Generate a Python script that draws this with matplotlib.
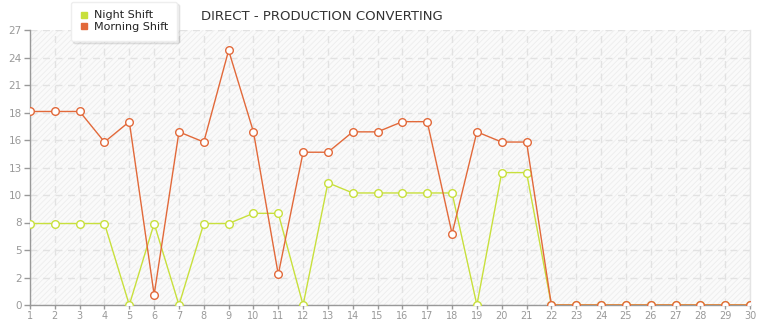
import numpy as np
import matplotlib; matplotlib.use("Agg")
import matplotlib.pyplot as plt
from matplotlib.lines import Line2D
from matplotlib.patches import Rectangle

days = list(range(1, 31))
night = [8, 8, 8, 8, 0, 8, 0, 8, 8, 9, 9, 0, 12, 11, 11, 11, 11, 11, 0, 13, 13,
         0, 0, 0, 0, 0, 0, 0, 0, 0]
morning = [19, 19, 19, 16, 18, 1, 17, 16, 25, 17, 3, 15, 15, 17, 17, 18, 18, 7, 17, 16, 16,
           0, 0, 0, 0, 0, 0, 0, 0, 0]
yticks = [0, 2.7, 5.4, 8.1, 10.8, 13.5, 16.2, 18.9, 21.6, 24.3, 27]
ylabels = ["0", "2", "5", "8", "10", "13", "16", "18", "21", "24", "27"]

c_night = "#c8e03c"
c_morn = "#e2693a"

plt.rcParams["hatch.color"] = "#ececec"
plt.rcParams["hatch.linewidth"] = 0.6
fig = plt.figure(figsize=(7.65, 3.2), dpi=100)
ax = fig.add_axes([30/765, 15/320, 720/765, 275/320])
ax.set_facecolor("#fafafa")
ax.add_patch(Rectangle((0, 0), 1, 1, transform=ax.transAxes, facecolor="none",
                       edgecolor="#ededed", hatch="//////", lw=0, zorder=0))

ax.plot(days, night, "-o", color=c_night, lw=1, ms=5.5, mfc="white", mec=c_night, mew=1, zorder=3)
ax.plot(days, morning, "-o", color=c_morn, lw=1, ms=5.5, mfc="white", mec=c_morn, mew=1, zorder=4)

ax.set_xlim(1, 30); ax.set_ylim(0, 27)
ax.set_xticks(days); ax.set_yticks(yticks); ax.set_yticklabels(ylabels)
ax.grid(True, color="#e2e2e2", ls=(0, (5, 4)), lw=1, zorder=1)
ax.tick_params(colors="#999999", labelsize=7.5, length=4, width=1, pad=2)
ax.tick_params(axis="x", length=3, pad=1, labelsize=7)
ax.spines["top"].set_visible(False)
ax.spines["right"].set_color("#e4e4e4")
ax.spines["left"].set_color("#999999"); ax.spines["bottom"].set_color("#999999")
for sp in ax.spines.values():
    sp.set_linewidth(1)

fig.text(322/765, 1 - 17/320, "DIRECT - PRODUCTION CONVERTING", ha="center", va="center",
         fontsize=9.5, color="#333333")

handles = [Line2D([], [], ls="none", marker="s", ms=4, color=c_night),
           Line2D([], [], ls="none", marker="s", ms=4, color=c_morn)]
leg = fig.legend(handles, ["Night Shift", "Morning Shift"], loc="upper left",
                 bbox_to_anchor=(65/765, 1 + 4/320), fontsize=8, frameon=True,
                 fancybox=True, shadow={"color": "#000000", "alpha": 0.07},
                 handlelength=0.8, handletextpad=0.5,
                 labelspacing=0.15, borderpad=0.8, framealpha=1)
leg.get_frame().set_edgecolor("#eeeeee")
for t in leg.get_texts():
    t.set_color("#222222")

fig.savefig("out.png", dpi=100)
